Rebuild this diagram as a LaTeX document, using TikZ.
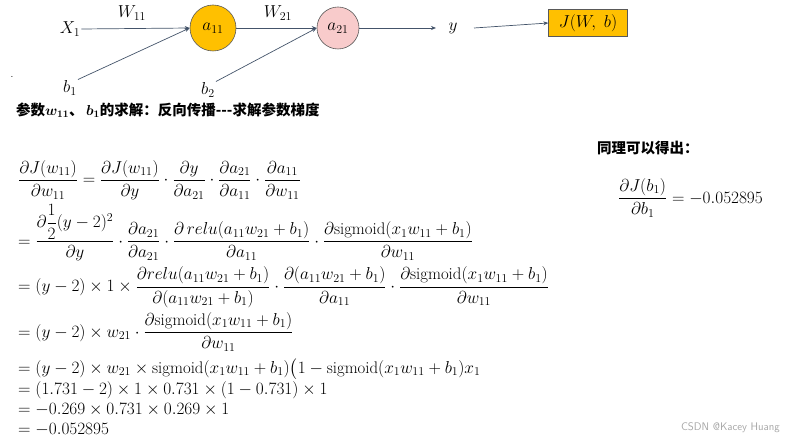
\documentclass[tikz,border=0pt]{standalone}
\usepackage{amsmath}
\usepackage{fontspec}
\newfontfamily\cjk{Noto Sans CJK SC}
\usetikzlibrary{arrows.meta}
\definecolor{org}{HTML}{FFC000}
\definecolor{pnk}{HTML}{F8CBCB}
\definecolor{edge}{HTML}{44546A}
\tikzset{
  conn/.style={draw=edge,line width=0.7pt,-{Stealth[length=5pt,width=4pt]}},
  neuron/.style={circle,draw=gray!70!black,line width=0.6pt,minimum size=#1,font=\fontsize{17}{19}\selectfont},
  lbl/.style={inner sep=1pt,font=\fontsize{18}{20}\selectfont},
  eq/.style={anchor=west,inner sep=0pt,font=\fontsize{16.8}{18}\selectfont},
  cjkb/.style={anchor=west,inner sep=0pt,font=\cjk\bfseries\fontsize{14.5}{16}\selectfont}
}
\begin{document}
\begin{tikzpicture}[x=1pt,y=-1pt]
\useasboundingbox (0,0) rectangle (785,438);
\node[lbl] (x1) at (70,29) {$X_1$};
\node[neuron=46pt,fill=org] (a11) at (213,28) {$a_{11}$};
\node[neuron=42pt,fill=pnk] (a21) at (338,28) {$a_{21}$};
\node[lbl] (y) at (453,28) {$y$};
\node[draw=gray!70!black,fill=org,minimum width=79pt,minimum height=27pt,inner sep=0pt,font=\fontsize{16}{18}\selectfont] (J) at (588,23) {$J(W,\ b)$};
\node[lbl] (b1) at (70,88) {$b_1$};
\node[lbl] (b2) at (208,90) {$b_2$};
\node[lbl] (w11) at (132,13) {$W_{11}$};
\node[lbl] (w21) at (278,13) {$W_{21}$};
\draw[conn] (x1.east) -- (a11.west);
\draw[conn] (b1.north east) -- (a11.west);
\draw[conn] (a11.east) -- (a21.west);
\draw[conn] (b2.north east) -- (a21.west);
\coordinate (ya) at (436,28);
\coordinate (yb) at (474,28);
\draw[conn] (a21.east) -- (ya);
\draw[conn] (yb) -- (J.west);
\node[inner sep=0pt] (dot) at (12,77) {.};
\node[cjkb] (h) at (16,110) {参数$\boldsymbol{w_{11}}$、\,$\boldsymbol{b_1}$的求解：反向传播---求解参数梯度};
\node[cjkb] (r) at (597,148) {同理可以得出：};
\node[eq] (rr) at (618,198) {$\displaystyle\frac{\partial J(b_1)}{\partial b_1}=-0.052895$};
\node[eq] (e1) at (18,180) {$\displaystyle\frac{\partial J(w_{11})}{\partial w_{11}}=\frac{\partial J(w_{11})}{\partial y}\cdot\frac{\partial y}{\partial a_{21}}\cdot\frac{\partial a_{21}}{\partial a_{11}}\cdot\frac{\partial a_{11}}{\partial w_{11}}$};
\node[eq] (e2) at (18,233) {$\displaystyle=\frac{\partial\dfrac12(y-2)^2}{\partial y}\cdot\frac{\partial a_{21}}{\partial a_{21}}\cdot\frac{\partial\, relu(a_{11}w_{21}+b_1)}{\partial a_{11}}\cdot\frac{\partial \mathrm{sigmoid}(x_1w_{11}+b_1)}{\partial w_{11}}$};
\node[eq] (e3) at (18,287) {$\displaystyle=(y-2)\times1\times\frac{\partial relu(a_{11}w_{21}+b_1)}{\partial(a_{11}w_{21}+b_1)}\cdot\frac{\partial(a_{11}w_{21}+b_1)}{\partial a_{11}}\cdot\frac{\partial \mathrm{sigmoid}(x_1w_{11}+b_1)}{\partial w_{11}}$};
\node[eq] (e4) at (18,332) {$\displaystyle=(y-2)\times w_{21}\cdot\frac{\partial \mathrm{sigmoid}(x_1w_{11}+b_1)}{\partial w_{11}}$};
\node[eq] (e5) at (18,369) {$=(y-2)\times w_{21}\times\mathrm{sigmoid}(x_1w_{11}+b_1)\bigl(1-\mathrm{sigmoid}(x_1w_{11}+b_1)x_1$};
\node[eq] (e6) at (18,390) {$=(1.731-2)\times1\times0.731\times(1-0.731)\times1$};
\node[eq] (e7) at (18,410) {$=-0.269\times0.731\times0.269\times1$};
\node[eq] (e8) at (18,430) {$=-0.052895$};
\node[anchor=east,inner sep=0pt,text=gray!70,font=\sffamily\fontsize{11}{12}\selectfont] (wm) at (780,428) {CSDN @Kacey Huang};
\end{tikzpicture}
\end{document}
